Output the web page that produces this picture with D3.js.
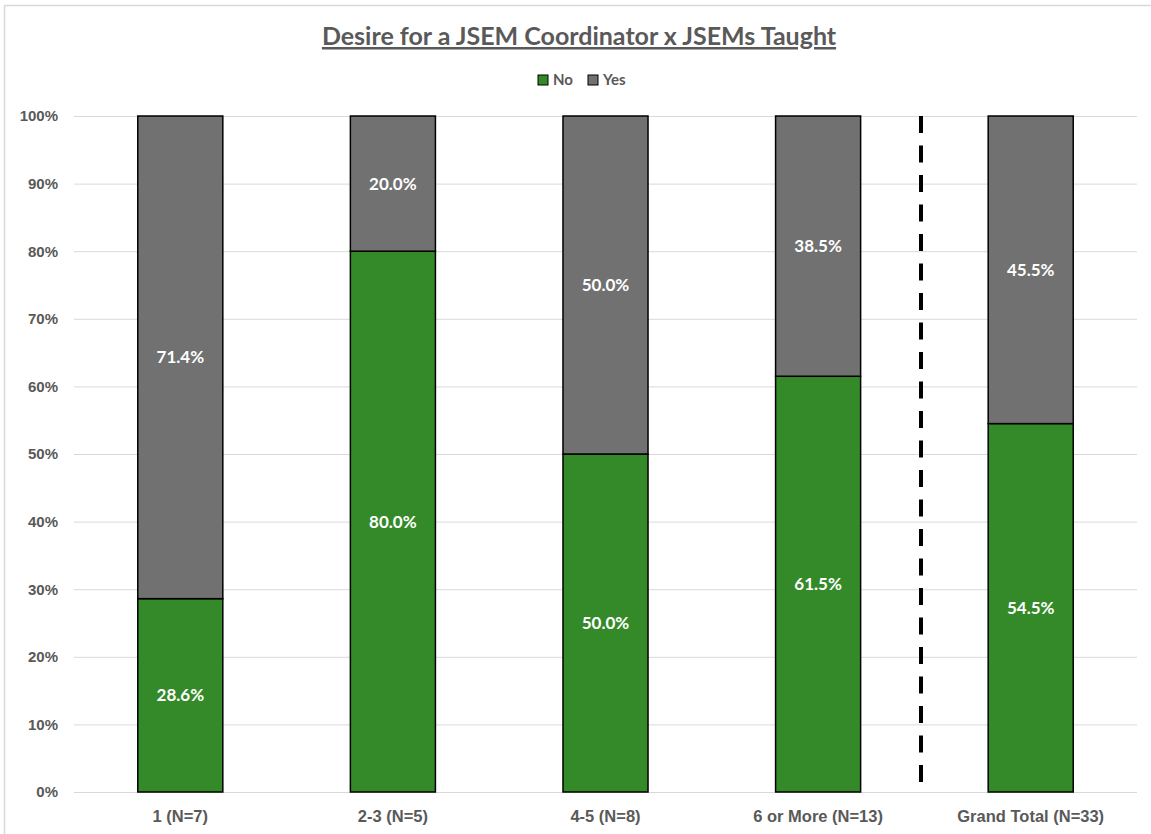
<!DOCTYPE html>
<html>
<head>
<meta charset="utf-8">
<script src="https://cdn.jsdelivr.net/npm/d3@7"></script>
<style>
  body { margin: 0; background: #fff; }
  svg { display: block; font-family: Lato, "Open Sans", sans-serif; }
</style>
</head>
<body>
<svg id="chart" width="1151" height="834"></svg>
<script>
// Chart data
const categories = ["1 (N=7)", "2-3 (N=5)", "4-5 (N=8)", "6 or More (N=13)", "Grand Total (N=33)"];
const noValues = [28.6, 80.0, 50.0, 61.5, 54.5];
const yesValues = [71.4, 20.0, 50.0, 38.5, 45.5];
const seriesNames = ["No", "Yes"];
const yTicks = [0, 10, 20, 30, 40, 50, 60, 70, 80, 90, 100];

const colors = { No: "#348a28", Yes: "#707170" };
const textGray = "#595959";

const svg = d3.select("#chart");

// outer chart border (light gray frame)
svg.append("rect")
  .attr("x", 4.5).attr("y", 5.5)
  .attr("width", 1160).attr("height", 850)
  .attr("fill", "none")
  .attr("stroke", "#d9d9d9")
  .attr("stroke-width", 1.5);

const plot = { left: 74, right: 1137, top: 116, bottom: 792 };

const x = d3.scaleBand()
  .domain(categories)
  .range([plot.left, plot.right])
  .paddingInner(0.6)
  .paddingOuter(0.3);

const y = d3.scaleLinear()
  .domain([0, 100])
  .range([plot.bottom, plot.top]);

// gridlines
svg.append("g")
  .selectAll("line")
  .data(yTicks)
  .enter().append("line")
  .attr("x1", plot.left).attr("x2", plot.right)
  .attr("y1", (d) => y(d) + 0.5).attr("y2", (d) => y(d) + 0.5)
  .attr("stroke", "#d9d9d9")
  .attr("stroke-width", 1);

// y axis labels
const yAxis = svg.append("g")
  .attr("transform", `translate(${plot.left - 16},0)`)
  .call(d3.axisLeft(y).tickValues(yTicks).tickFormat((d) => d + "%").tickSize(0).tickPadding(0));
yAxis.select(".domain").remove();
yAxis.selectAll("text")
  .attr("fill", textGray)
  .attr("font-size", "15px")
  .attr("font-weight", "bold");

// x axis labels
const xAxis = svg.append("g")
  .attr("transform", `translate(0,${plot.bottom})`)
  .call(d3.axisBottom(x).tickSize(0).tickPadding(18));
xAxis.select(".domain").remove();
xAxis.selectAll("text")
  .attr("fill", textGray)
  .attr("font-size", "16.5px")
  .attr("font-weight", "bold");

// stacked bars
const rows = categories.map((c, i) => ({ category: c, No: noValues[i], Yes: yesValues[i] }));
const stacked = d3.stack().keys(seriesNames)(rows);

const layers = svg.append("g")
  .selectAll("g")
  .data(stacked)
  .enter().append("g")
  .attr("fill", (d) => colors[d.key]);

layers.selectAll("rect")
  .data((d) => d)
  .enter().append("rect")
  .attr("x", (d) => x(d.data.category))
  .attr("y", (d) => y(d[1]))
  .attr("width", x.bandwidth())
  .attr("height", (d) => y(d[0]) - y(d[1]))
  .attr("stroke", "#000")
  .attr("stroke-width", 1.5);

// value labels
layers.selectAll("text")
  .data((d) => d)
  .enter().append("text")
  .attr("x", (d) => x(d.data.category) + x.bandwidth() / 2)
  .attr("y", (d) => (y(d[0]) + y(d[1])) / 2)
  .attr("dy", "0.35em")
  .attr("text-anchor", "middle")
  .attr("fill", "#fff")
  .attr("font-size", "17px")
  .attr("font-weight", "bold")
  .text((d) => (d[1] - d[0]).toFixed(1) + "%");

// dashed divider before Grand Total
svg.append("line")
  .attr("x1", 921).attr("x2", 921)
  .attr("y1", plot.top).attr("y2", plot.top + 666)
  .attr("stroke", "#000")
  .attr("stroke-width", 4)
  .attr("stroke-dasharray", "17 12.5");

// title
svg.append("text")
  .attr("x", 579).attr("y", 45)
  .attr("text-anchor", "middle")
  .attr("fill", textGray)
  .attr("font-size", "25px")
  .attr("font-weight", "bold")
  .attr("text-decoration", "underline")
  .text("Desire for a JSEM Coordinator x JSEMs Taught");

// legend
const legend = svg.append("g").attr("transform", "translate(538,75)");
const legendX = [0, 50];
seriesNames.forEach((name, i) => {
  const g = legend.append("g").attr("transform", `translate(${legendX[i]},0)`);
  g.append("rect")
    .attr("width", 10).attr("height", 10)
    .attr("fill", colors[name])
    .attr("stroke", "#000")
    .attr("stroke-width", 1);
  g.append("text")
    .attr("x", 15).attr("y", 5)
    .attr("dy", "0.35em")
    .attr("fill", textGray)
    .attr("font-size", "15px")
    .attr("font-weight", "bold")
    .text(name);
});
</script>
</body>
</html>
